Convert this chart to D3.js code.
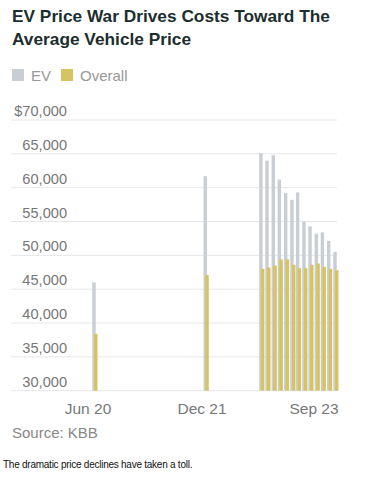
<!DOCTYPE html>
<html>
<head>
<meta charset="utf-8">
<script src="https://cdn.jsdelivr.net/npm/d3@7"></script>
<style>
  body { margin: 0; background: #fff; }
  svg { display: block; }
</style>
</head>
<body>
<div id="chart"></div>
<script>
// données (prix moyen, $)
var months = ["2020-06", "2021-12",
  "2022-09", "2022-10", "2022-11", "2022-12", "2023-01", "2023-02", "2023-03",
  "2023-04", "2023-05", "2023-06", "2023-07", "2023-08", "2023-09"];
var evPrices = [46000, 61700,
  65100, 64000, 64800, 61200, 59200, 58200, 59300,
  55000, 54300, 53200, 53400, 52150, 50500];
var overallPrices = [38400, 47100,
  48000, 48200, 48500, 49400, 49400, 48600, 48100,
  48100, 48600, 48800, 48300, 48000, 47800];
var yTicks = [30000, 35000, 40000, 45000, 50000, 55000, 60000, 65000, 70000];
var xTicks = ["2020-06", "2021-12", "2023-09"];

var width = 365, height = 483;
var parse = d3.timeParse("%Y-%m");
var fmtMonth = d3.timeFormat("%b %y");

var svg = d3.select("#chart").append("svg")
  .attr("width", width)
  .attr("height", height)
  .style("font-family", "'Liberation Sans', Arial, sans-serif");

var x = d3.scaleTime()
  .domain([parse("2020-06"), parse("2023-09")])
  .range([94, 335]);
var y = d3.scaleLinear()
  .domain([30000, 70000])
  .range([390.7, 120]);

// titre
svg.append("text")
  .attr("x", 12).attr("y", 22)
  .attr("font-size", 17.3).attr("font-weight", "bold")
  .attr("fill", "#1c2e2e")
  .text("EV Price War Drives Costs Toward The");
svg.append("text")
  .attr("x", 12).attr("y", 45)
  .attr("font-size", 17.3).attr("font-weight", "bold")
  .attr("fill", "#1c2e2e")
  .text("Average Vehicle Price");

// légende
var legend = [{name: "EV", color: "#c9ced4", x: 12}, {name: "Overall", color: "#d6c463", x: 61}];
legend.forEach(function (d) {
  svg.append("rect")
    .attr("x", d.x).attr("y", 69)
    .attr("width", 12).attr("height", 12)
    .attr("fill", d.color);
  svg.append("text")
    .attr("x", d.x + 19).attr("y", 81)
    .attr("font-size", 15)
    .attr("fill", "#999")
    .text(d.name);
});

// grille + étiquettes
var grid = svg.append("g");
yTicks.forEach(function (t) {
  grid.append("line")
    .attr("x1", 11).attr("x2", 337)
    .attr("y1", y(t)).attr("y2", y(t))
    .attr("stroke", "#e6e6e6").attr("stroke-width", 1);
  grid.append("text")
    .attr("x", 67).attr("y", y(t) - 4)
    .attr("text-anchor", "end")
    .attr("font-size", 14.6)
    .attr("fill", "#777")
    .text((t === 70000 ? "$" : "") + d3.format(",")(t));
});

// barres
var bars = svg.append("g");
months.forEach(function (m, i) {
  var cx = x(parse(m));
  bars.append("rect")
    .attr("x", cx - 1.7).attr("width", 3.4)
    .attr("y", y(evPrices[i]))
    .attr("height", y(30000) - y(evPrices[i]))
    .attr("fill", "#c9ced4");
  bars.append("rect")
    .attr("x", cx).attr("width", 3.5)
    .attr("y", y(overallPrices[i]))
    .attr("height", y(30000) - y(overallPrices[i]))
    .attr("fill", "#d6c463");
});

// axe x
var xLabelPos = [88, 202, 314];
xTicks.forEach(function (m, i) {
  svg.append("text")
    .attr("x", xLabelPos[i]).attr("y", 413.5)
    .attr("text-anchor", "middle")
    .attr("font-size", 15.5)
    .attr("fill", "#777")
    .text(fmtMonth(parse(m)));
});

svg.append("text")
  .attr("x", 12).attr("y", 437.5)
  .attr("font-size", 15)
  .attr("fill", "#888")
  .text("Source: KBB");

svg.append("text")
  .attr("x", 3).attr("y", 468)
  .attr("font-size", 10)
  .attr("letter-spacing", -0.25)
  .attr("fill", "#111")
  .text("The dramatic price declines have taken a toll.");
</script>
</body>
</html>
